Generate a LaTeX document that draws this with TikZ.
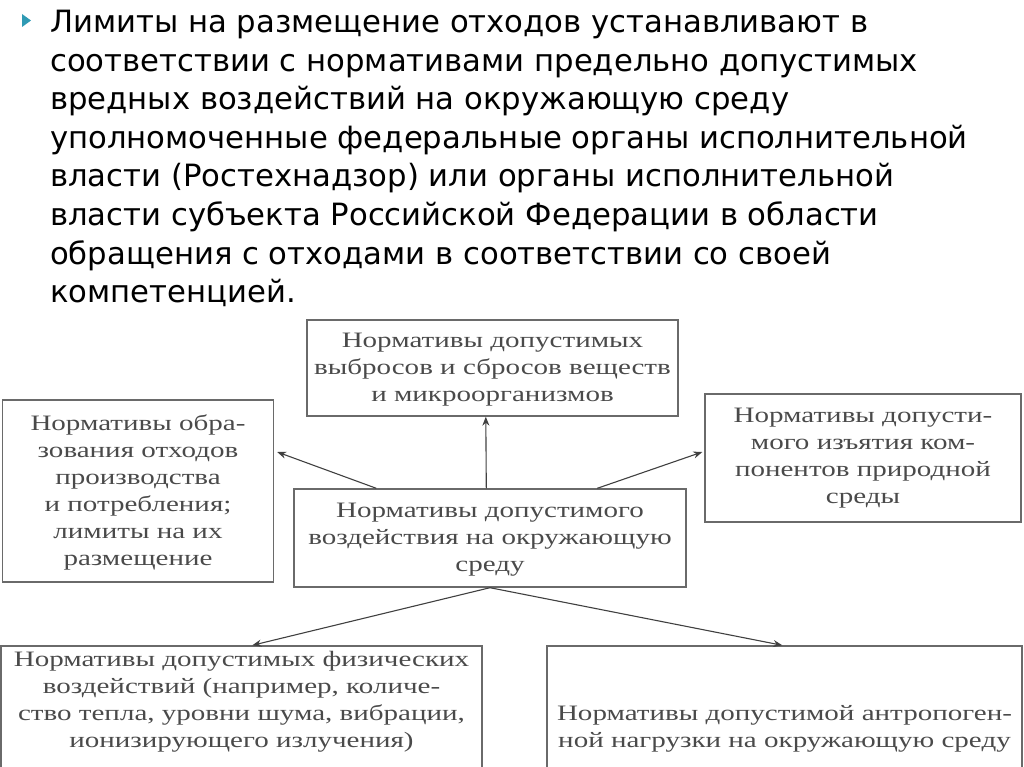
\documentclass[tikz,border=0pt]{standalone}
\usepackage{fontspec}
\setmainfont{DejaVu Sans}
\newfontfamily\diagfont[FakeStretch=1.32]{Liberation Serif}
\usetikzlibrary{calc,arrows.meta}
\definecolor{boxline}{HTML}{6A6A6A}
\definecolor{boxtext}{HTML}{4A4A4A}
\definecolor{bullet}{HTML}{2F9AB4}
\tikzset{
  x=1pt,y=1pt,
  titleline/.style={anchor=base west,inner sep=0pt,font=\fontsize{30.7}{38}\selectfont,text=black},
  box/.style={draw=boxline,line width=1.4pt,inner sep=0pt},
  boxlabel/.style={align=center,inner sep=0pt,text=boxtext,font=\diagfont\fontsize{22}{27}\selectfont},
  arr/.style={draw=black!75,line width=1.1pt,-{Stealth[length=9pt,width=7pt]}}
}
\begin{document}
\begin{tikzpicture}
\useasboundingbox (0,0) rectangle (1024,-767);
\clip (0,0) rectangle (1024,-767);
% bullet
\fill[bullet] (22,-14) -- (31,-20.5) -- (22,-27) -- cycle;
% title
\node[titleline] (t1) at (50,-33) {Лимиты на размещение отходов устанавливают в};
\node[titleline] (t2) at (50,-71.5) {соответствии с нормативами предельно допустимых};
\node[titleline] (t3) at (50,-110) {вредных воздействий на окружающую среду};
\node[titleline] (t4) at (50,-148.5) {уполномоченные федеральные органы исполнительной};
\node[titleline] (t5) at (50,-187) {власти (Ростехнадзор) или органы исполнительной};
\node[titleline] (t6) at (50,-225.5) {власти субъекта Российской Федерации в области};
\node[titleline] (t7) at (50,-264) {обращения с отходами в соответствии со своей};
\node[titleline] (t8) at (50,-302.5) {компетенцией.};
% boxes
\node[box,minimum width=371,minimum height=96] (top) at (492.5,-368) {};
\node[boxlabel] (topt) at (492.5,-370) {Нормативы допустимых\\выбросов и сбросов веществ\\и микроорганизмов};
\node[box,minimum width=271,minimum height=182] (left) at (138,-491) {};
\node[boxlabel] (leftt) at (138,-492) {Нормативы обра-\\зования отходов\\производства\\и потребления;\\лимиты на их\\размещение};
\node[box,minimum width=316,minimum height=128] (right) at (863,-458) {};
\node[boxlabel] (rightt) at (863,-458) {Нормативы допусти-\\мого изъятия ком-\\понентов природной\\среды};
\node[box,minimum width=392,minimum height=98] (mid) at (490,-538) {};
\node[boxlabel] (midt) at (490,-540) {Нормативы допустимого\\воздействия на окружающую\\среду};
\node[box,minimum width=481,minimum height=160] (bl) at (241.5,-726) {};
\node[boxlabel] (blt) at (241.5,-702) {Нормативы допустимых физических\\воздействий (например, количе-\\ство тепла, уровни шума, вибрации,\\ионизирующего излучения)};
\node[box,minimum width=475,minimum height=160] (br) at (784.5,-726) {};
\node[boxlabel] (brt) at (784.5,-729) {Нормативы допустимой антропоген-\\ной нагрузки на окружающую среду};
% connectors
\draw[arr] ($(mid.north west)+(193,0)$) -- ($(top.south west)+(179.5,0)$);
\draw[arr] ($(mid.north west)+(83,0)$) -- ($(left.east)+(3,39)$);
\draw[arr] ($(mid.north west)+(304,0)$) -- ($(right.west)+(-2,6)$);
\draw[arr] (mid.south) -- ($(bl.north west)+(252,0)$);
\draw[arr] (mid.south) -- ($(br.north west)+(236,0)$);
\end{tikzpicture}
\end{document}
